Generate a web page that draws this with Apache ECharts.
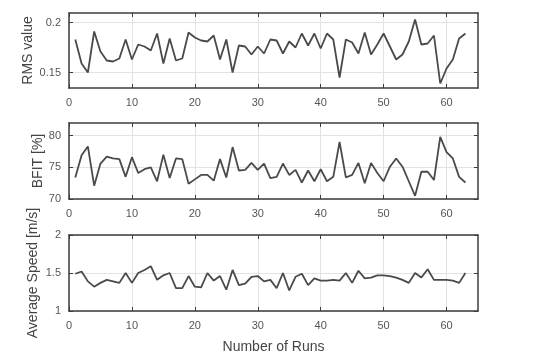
<!DOCTYPE html>
<html>
<head>
<meta charset="utf-8">
<script src="https://cdn.jsdelivr.net/npm/echarts@6/dist/echarts.min.js"></script>
<style>html,body{margin:0;padding:0;background:#fff}#c{width:559px;height:355px}</style>
</head>
<body>
<div id="c"></div>
<script>
const runs = Array.from({length: 63}, (_, i) => i + 1);
const xTicks = [0, 10, 20, 30, 40, 50, 60];

const rmsValues = [0.183,0.159,0.150,0.191,0.171,0.162,0.161,0.164,0.183,0.163,
  0.178,0.176,0.172,0.189,0.159,0.184,0.162,0.164,0.190,0.185,
  0.182,0.181,0.187,0.163,0.183,0.150,0.177,0.176,0.168,0.176,
  0.169,0.183,0.182,0.169,0.181,0.175,0.189,0.177,0.189,0.174,
  0.189,0.183,0.145,0.183,0.180,0.169,0.190,0.168,0.178,0.189,
  0.176,0.163,0.168,0.181,0.203,0.178,0.179,0.187,0.139,0.154,
  0.163,0.184,0.189];
const bfitValues = [73.4,76.9,78.3,72.1,75.6,76.7,76.4,76.3,73.5,76.6,
  74.1,74.7,75.0,72.8,77.0,73.3,76.4,76.3,72.4,73.1,
  73.8,73.8,72.9,76.3,73.4,78.2,74.5,74.6,75.7,74.6,
  75.6,73.3,73.5,75.6,73.8,74.6,72.6,74.5,72.8,74.7,
  72.8,73.5,79.0,73.4,73.8,75.7,72.5,75.7,74.1,72.8,
  75.1,76.4,75.1,72.8,70.5,74.3,74.3,73.0,79.8,77.4,
  76.4,73.5,72.6];
const speedValues = [1.49,1.52,1.39,1.32,1.37,1.41,1.39,1.37,1.50,1.37,
  1.50,1.54,1.59,1.41,1.47,1.50,1.30,1.30,1.46,1.32,
  1.31,1.50,1.40,1.46,1.28,1.54,1.34,1.36,1.45,1.46,
  1.39,1.41,1.30,1.50,1.27,1.45,1.49,1.34,1.43,1.40,
  1.40,1.41,1.40,1.50,1.37,1.53,1.43,1.44,1.47,1.47,
  1.46,1.44,1.41,1.37,1.50,1.44,1.55,1.41,1.41,1.41,
  1.40,1.37,1.50];

const rmsTicks = [0.15, 0.2];
const bfitTicks = [70, 75, 80];
const speedTicks = [1, 1.5, 2];

const panels = [
  {name: 'RMS value', values: rmsValues, ticks: rmsTicks, min: 0.1345, max: 0.2095, top: 13, height: 75, gap: 34},
  {name: 'BFIT [%]', values: bfitValues, ticks: bfitTicks, min: 70, max: 82, top: 123, height: 76, gap: 24},
  {name: 'Average Speed [m/s]', values: speedValues, ticks: speedTicks, min: 1, max: 2, top: 235, height: 77, gap: 29}
];

const FONT = 'Liberation Sans, Arial, sans-serif';
const boxColor = '#3c3c3c';
const textColor = '#555';
const gridColor = '#e2e2e2';

const grid = [], xAxis = [], yAxis = [], series = [];
panels.forEach((p, i) => {
  grid.push({left: 69, right: 81, top: p.top, height: p.height});
  const isLast = i === panels.length - 1;
  xAxis.push({
    type: 'value', gridIndex: i, min: 0, max: 65, position: 'bottom',
    axisLine: {show: true, onZero: false, lineStyle: {color: boxColor, width: 1.5}},
    axisTick: {show: true, inside: true, length: 4, customValues: xTicks, lineStyle: {color: boxColor}},
    axisLabel: {show: true, customValues: xTicks, margin: 9, color: textColor, fontSize: 11, fontFamily: FONT},
    splitLine: {show: true, lineStyle: {color: gridColor, width: 1}},
    name: isLast ? 'Number of Runs' : '', nameLocation: 'middle', nameGap: 29, nameMoveOverlap: false,
    nameTextStyle: {color: '#444', fontSize: 14, fontFamily: FONT}
  });
  xAxis.push({
    type: 'value', gridIndex: i, min: 0, max: 65, position: 'top',
    axisLine: {show: true, onZero: false, lineStyle: {color: boxColor, width: 1.5}},
    axisTick: {show: true, inside: true, length: 4, customValues: xTicks, lineStyle: {color: boxColor}},
    axisLabel: {show: false}, splitLine: {show: false}
  });
  yAxis.push({
    type: 'value', gridIndex: i, min: p.min, max: p.max, position: 'left',
    axisLine: {show: true, onZero: false, lineStyle: {color: boxColor, width: 1.5}},
    axisTick: {show: true, inside: true, length: 4, customValues: p.ticks, lineStyle: {color: boxColor}},
    axisLabel: {show: true, customValues: p.ticks, margin: 8, color: textColor, fontSize: 11, fontFamily: FONT},
    splitLine: {show: true, lineStyle: {color: gridColor, width: 1}},
    name: p.name, nameLocation: 'middle', nameGap: p.gap, nameRotate: 90, nameMoveOverlap: false,
    nameTextStyle: {color: '#444', fontSize: 14, fontFamily: FONT}
  });
  yAxis.push({
    type: 'value', gridIndex: i, min: p.min, max: p.max, position: 'right',
    axisLine: {show: true, onZero: false, lineStyle: {color: boxColor, width: 1.5}},
    axisTick: {show: true, inside: true, length: 4, customValues: p.ticks, lineStyle: {color: boxColor}},
    axisLabel: {show: false}, splitLine: {show: false}
  });
  series.push({
    type: 'line', xAxisIndex: 2 * i, yAxisIndex: 2 * i,
    data: runs.map((r, k) => [r, p.values[k]]),
    showSymbol: false, symbol: 'none', smooth: false,
    lineStyle: {color: '#4a4a4a', width: 1.8},
    animation: false, silent: true
  });
});

const chart = echarts.init(document.getElementById('c'), null, {renderer: 'canvas'});
chart.setOption({backgroundColor: '#fff', animation: false, grid, xAxis, yAxis, series});
</script>
</body>
</html>
